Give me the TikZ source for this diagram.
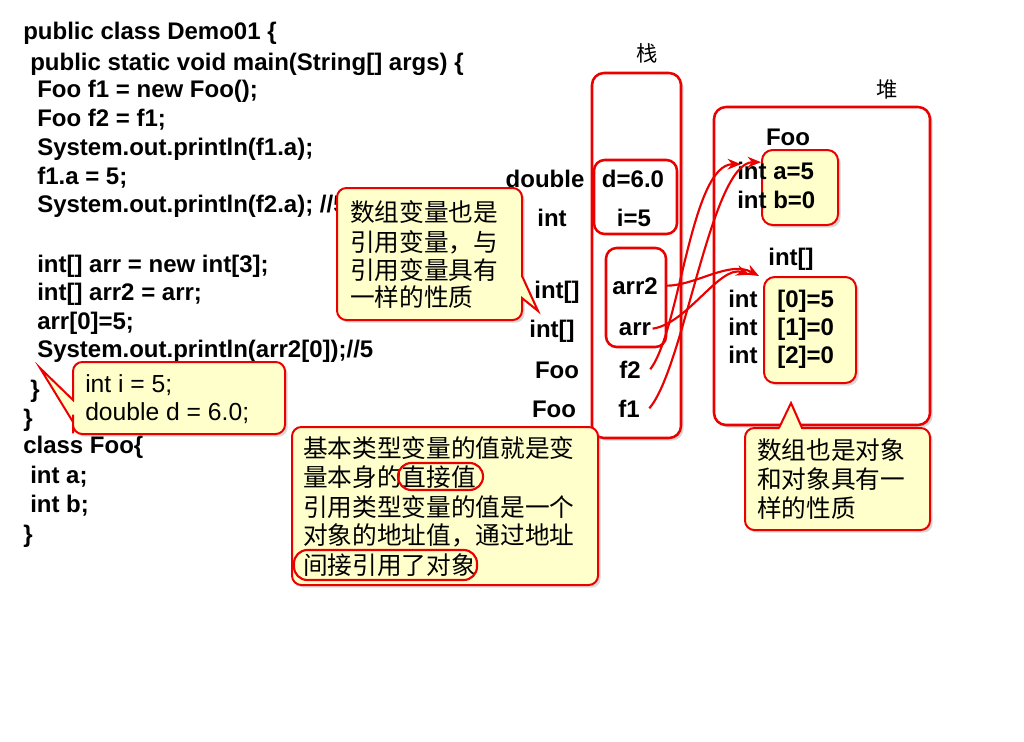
\documentclass[tikz,border=0pt]{standalone}
\usepackage{fontspec}
\setmainfont{Liberation Sans}
\newfontfamily\cjk{Noto Sans CJK SC}
\usetikzlibrary{shadows,arrows.meta}
\definecolor{bred}{RGB}{235,0,0}
\definecolor{byel}{RGB}{255,255,204}
\begin{document}
\begin{tikzpicture}[x=0.75pt,y=-0.75pt,
  code/.style={anchor=base west,inner sep=0,font=\fontsize{18}{20}\selectfont\bfseries},
  lbl/.style={anchor=base,inner sep=0,font=\fontsize{18}{20}\selectfont\bfseries},
  cj/.style={anchor=base west,inner sep=0,font=\cjk\fontsize{18.5}{22}\selectfont},
  title/.style={inner sep=0,font=\cjk\fontsize{16}{18}\selectfont},
  shad/.style={drop shadow={shadow xshift=2pt,shadow yshift=-2pt,opacity=0.3}},
  bigbox/.style={draw=bred,line width=1.9pt,rounded corners=9pt,fill=white,inner sep=0,shad},
  inbox/.style={draw=bred,line width=1.9pt,rounded corners=8pt,inner sep=0},
  objbox/.style={draw=bred,line width=1.5pt,rounded corners=8pt,fill=byel,inner sep=0,shad},
  callout/.style={draw=bred,line width=1.5pt,fill=byel,shad},
  hl/.style={draw=bred,line width=1.6pt,rounded corners=10pt},
  ref/.style={draw=bred,line width=1.6pt,-{Stealth[length=10pt,width=8pt]}},
]
\fill[white] (0,0) rectangle (1024,742);
\useasboundingbox (0,0) rectangle (1024,742);

% code
\node[code] (c1) at (23,40) {public class Demo01 \{};
\node[code] (c2) at (30,70) {public static void main(String[] args) \{};
\node[code] (c3) at (37,98) {Foo f1 = new Foo();};
\node[code] (c4) at (37,127) {Foo f2 = f1;};
\node[code] (c5) at (37,155) {System.out.println(f1.a);};
\node[code] (c6) at (37,184) {f1.a = 5;};
\node[code] (c7) at (37,212) {System.out.println(f2.a); //5};
\node[code] (c8) at (37,272) {int[] arr = new int[3];};
\node[code] (c9) at (37,300) {int[] arr2 = arr;};
\node[code] (c10) at (37,329) {arr[0]=5;};
\node[code] (c11) at (37,357) {System.out.println(arr2[0]);//5};
\node[code] (c12) at (30,397) {\}};
\node[code] (c13) at (23,426) {\}};
\node[code] (c14) at (23,453) {class Foo\{};
\node[code] (c15) at (30,483) {int a;};
\node[code] (c16) at (30,512) {int b;};
\node[code] (c17) at (23,542) {\}};

% stack
\node[title] (stt) at (647,53) {栈};
\node[bigbox,minimum width=66.75pt,minimum height=273.75pt] (stack) at (636.5,255.5) {};
\node[inbox,minimum width=62.25pt,minimum height=55.5pt] (dbox) at (635.5,197) {};
\node[inbox,minimum width=45pt,minimum height=74.25pt] (abox) at (636,297.5) {};
\node[lbl] (t1) at (545,187) {double};
\node[lbl] (t2) at (552,226) {int};
\node[lbl] (t3) at (557,298) {int[]};
\node[lbl] (t4) at (552,337) {int[]};
\node[lbl] (t5) at (557,378) {Foo};
\node[lbl] (t6) at (554,417) {Foo};
\node[lbl] (vd) at (633,187) {d=6.0};
\node[lbl] (vi) at (634,226) {i=5};
\node[lbl] (varr2) at (635,294) {arr2};
\node[lbl] (varr) at (635,335) {arr};
\node[lbl] (vf2) at (630,378) {f2};
\node[lbl] (vf1) at (629,417) {f1};

% heap
\node[title] (hpt) at (887,89) {堆};
\node[bigbox,minimum width=162pt,minimum height=238.5pt] (heap) at (822,266) {};
\node[lbl] (fooT) at (788,145) {Foo};
\node[objbox,minimum width=57pt,minimum height=56.25pt] (fooobj) at (800,187.5) {};
\node[code] (fa) at (737,179) {int a=5};
\node[code] (fb) at (737,208) {int b=0};
\node[lbl] (arrT) at (791,265) {int[]};
\node[objbox,minimum width=69pt,minimum height=79.5pt] (arrobj) at (810,330) {};
\node[code] (e0) at (777,307) {[0]=5};
\node[code] (e1) at (777,335) {[1]=0};
\node[code] (e2) at (777,363) {[2]=0};
\node[code] (i0) at (728,307) {int};
\node[code] (i1) at (728,335) {int};
\node[code] (i2) at (728,363) {int};

% references
\draw[ref] ([xshift=7pt]vf2.east) .. controls +(30,-40) and +(-50,0) .. ([xshift=-15pt,yshift=17.5pt]fooobj.west);
\draw[ref] ([xshift=7pt]vf1.east) .. controls +(35,-40) and +(-50,0) .. ([yshift=19pt]fooobj.west);
\draw[ref] ([xshift=6pt]varr2.east) .. controls +(30,0) and +(-30,-16) .. ([xshift=-3pt]arrobj.north west);
\draw[ref] ([xshift=1pt]varr.east) .. controls +(35,-5) and +(-30,-10) .. ([xshift=-10pt,yshift=1pt]arrobj.north west);

% callout 1
\draw[callout] (430,188) [rounded corners=7pt] -- (522,188) -- (522,240) [sharp corners] -- (522,276) -- (538,311) -- (522,298) -- (522,305) [rounded corners=7pt] -- (522,320) -- (337,320) -- (337,188) -- cycle;
\node[cj] (k1) at (350,221) {数组变量也是};
\node[cj] (k2) at (350,251) {引用变量，与};
\node[cj] (k3) at (350,279) {引用变量具有};
\node[cj] (k4) at (350,306) {一样的性质};

% callout 2
\draw[callout] (180,362) [rounded corners=7pt] -- (285,362) -- (285,434) -- (73,434) -- (73,424) [sharp corners] -- (73,422) -- (40,368) -- (73,400) -- (73,398) [rounded corners=7pt] -- (73,362) -- cycle;
\node[code,font=\fontsize{18.5}{20}\selectfont] (s1) at (85,392) {int i = 5;};
\node[code,font=\fontsize{18.5}{20}\selectfont] (s2) at (85,420) {double d = 6.0;};

% callout 3
\draw[callout,rounded corners=7pt] (292,427) rectangle (598,585);
\node[cj] (m1) at (303,457) {基本类型变量的值就是变};
\node[cj] (m2) at (303,486) {量本身的直接值};
\node[cj] (m3) at (303,516) {引用类型变量的值是一个};
\node[cj] (m4) at (303,544) {对象的地址值，通过地址};
\node[cj] (m5) at (303,574) {间接引用了对象};
\draw[hl] (398,463) rectangle (483,490);
\draw[hl] (294,550) rectangle (477,580);

% callout 4
\draw[callout] (745,480) [rounded corners=7pt] -- (745,428) -- (770,428) [sharp corners] -- (779,428) -- (791,403) -- (802,428) -- (812,428) [rounded corners=7pt] -- (930,428) -- (930,530) -- (745,530) -- cycle;
\node[cj] (n1) at (757,459) {数组也是对象};
\node[cj] (n2) at (757,488) {和对象具有一};
\node[cj] (n3) at (757,517) {样的性质};
\end{tikzpicture}
\end{document}
